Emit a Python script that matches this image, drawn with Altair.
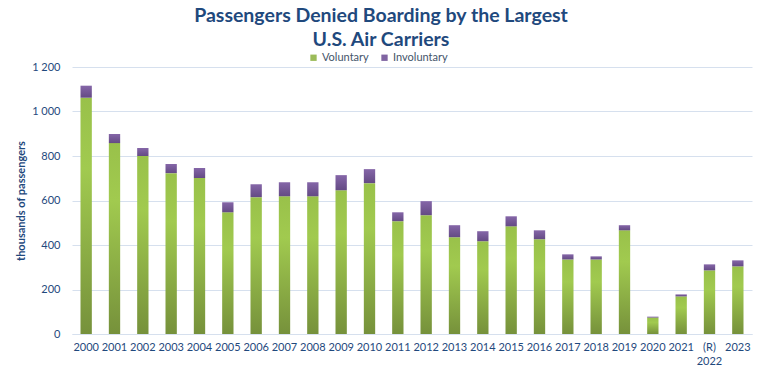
import altair as alt
import pandas as pd

years = ["2000", "2001", "2002", "2003", "2004", "2005", "2006", "2007", "2008", "2009",
         "2010", "2011", "2012", "2013", "2014", "2015", "2016", "2017", "2018", "2019",
         "2020", "2021", "2022", "2023"]
voluntary = [1062, 858, 800, 723, 701, 547, 615, 619, 619, 646,
             678, 507, 534, 435, 417, 484, 426, 335, 335, 466,
             74, 169, 286, 304]
involuntary = [54, 41, 36, 41, 45, 45, 58, 63, 63, 68,
               63, 40, 63, 54, 45, 45, 40, 23, 14, 23,
               4, 9, 27, 27]
series = ["Voluntary", "Involuntary"]
series_colors = ["#9BBB59", "#8064A2"]

df = pd.DataFrame({"year": years, "vol": voluntary, "inv": involuntary})
legend_df = pd.DataFrame({"series": series, "year": [years[0], years[0]], "v": [0, 0]})

FONT = "Lato"
TEXT = "#1F497D"
GRID = "#D6E0EE"

x_enc = alt.X(
    "year:N", sort=None, title=None,
    scale=alt.Scale(paddingInner=0.6, paddingOuter=0.3),
    axis=alt.Axis(
        labelExpr="datum.value == '2022' ? ['(R)', '2022'] : datum.value",
        labelAngle=0, labelFontSize=11, labelColor=TEXT, labelFont=FONT,
        labelPadding=7, ticks=False, domainColor=GRID, domainWidth=1, grid=False,
        labelLineHeight=14,
    ),
)

y_scale = alt.Scale(domain=[0, 1200], nice=False)
y_axis = alt.Axis(
    values=[0, 200, 400, 600, 800, 1000, 1200],
    labelExpr="replace(format(datum.value, ','), ',', ' ')",
    labelFontSize=11, labelColor=TEXT, labelFont=FONT, labelPadding=12,
    ticks=False, domain=False, gridColor=GRID, gridWidth=1,
    title="thousands of passengers", titleFontSize=11, titleColor=TEXT,
    titleFont=FONT, titleFontWeight="bold", titlePadding=5,
)

green = alt.Gradient(
    gradient="linear", x1=0, x2=0, y1=0, y2=1,
    stops=[alt.GradientStop(color="#99C14A", offset=0),
           alt.GradientStop(color="#A1CA4F", offset=0.3),
           alt.GradientStop(color="#76913B", offset=1)],
)
purple = alt.Gradient(
    gradient="linear", x1=0, x2=0, y1=0, y2=1,
    stops=[alt.GradientStop(color="#8566A8", offset=0),
           alt.GradientStop(color="#644A84", offset=1)],
)

base = alt.Chart(df)

vol_bars = base.mark_bar(fill=green).encode(
    x=x_enc,
    y=alt.Y("vol:Q", scale=y_scale, axis=y_axis),
)

inv_bars = base.transform_calculate(total="datum.vol + datum.inv").mark_bar(fill=purple).encode(
    x=x_enc,
    y=alt.Y("vol:Q", scale=y_scale, axis=y_axis),
    y2="total:Q",
)

legend_layer = alt.Chart(legend_df).mark_square(opacity=0, size=0).encode(
    x=x_enc,
    y=alt.Y("v:Q", scale=y_scale, axis=y_axis),
    color=alt.Color(
        "series:N",
        scale=alt.Scale(domain=series, range=series_colors),
        legend=alt.Legend(
            title=None, orient="none", direction="horizontal",
            legendX=236, legendY=-15,
            symbolType="square", symbolSize=40, symbolOpacity=1,
            symbolStrokeWidth=0,
            labelFontSize=11, labelColor="#44546A", labelFont=FONT,
            columnPadding=10, labelOffset=3,
        ),
    ),
)

chart = alt.layer(vol_bars, inv_bars, legend_layer).properties(
    width=680,
    height=267,
    background="white",
    autosize=alt.AutoSizeParams(type="none"),
    padding={"left": 72, "top": 67, "right": 11, "bottom": 41},
    title=alt.Title(
        ["Passengers Denied Boarding by the Largest", "U.S. Air Carriers"],
        font=FONT, fontSize=19.5, fontWeight="bold", color="#1F497D",
        anchor="middle", dx=-31, offset=2, lineHeight=24,
    ),
).configure_view(stroke=None)

chart.save("out.html", embed_options={"renderer": "svg", "actions": False})
